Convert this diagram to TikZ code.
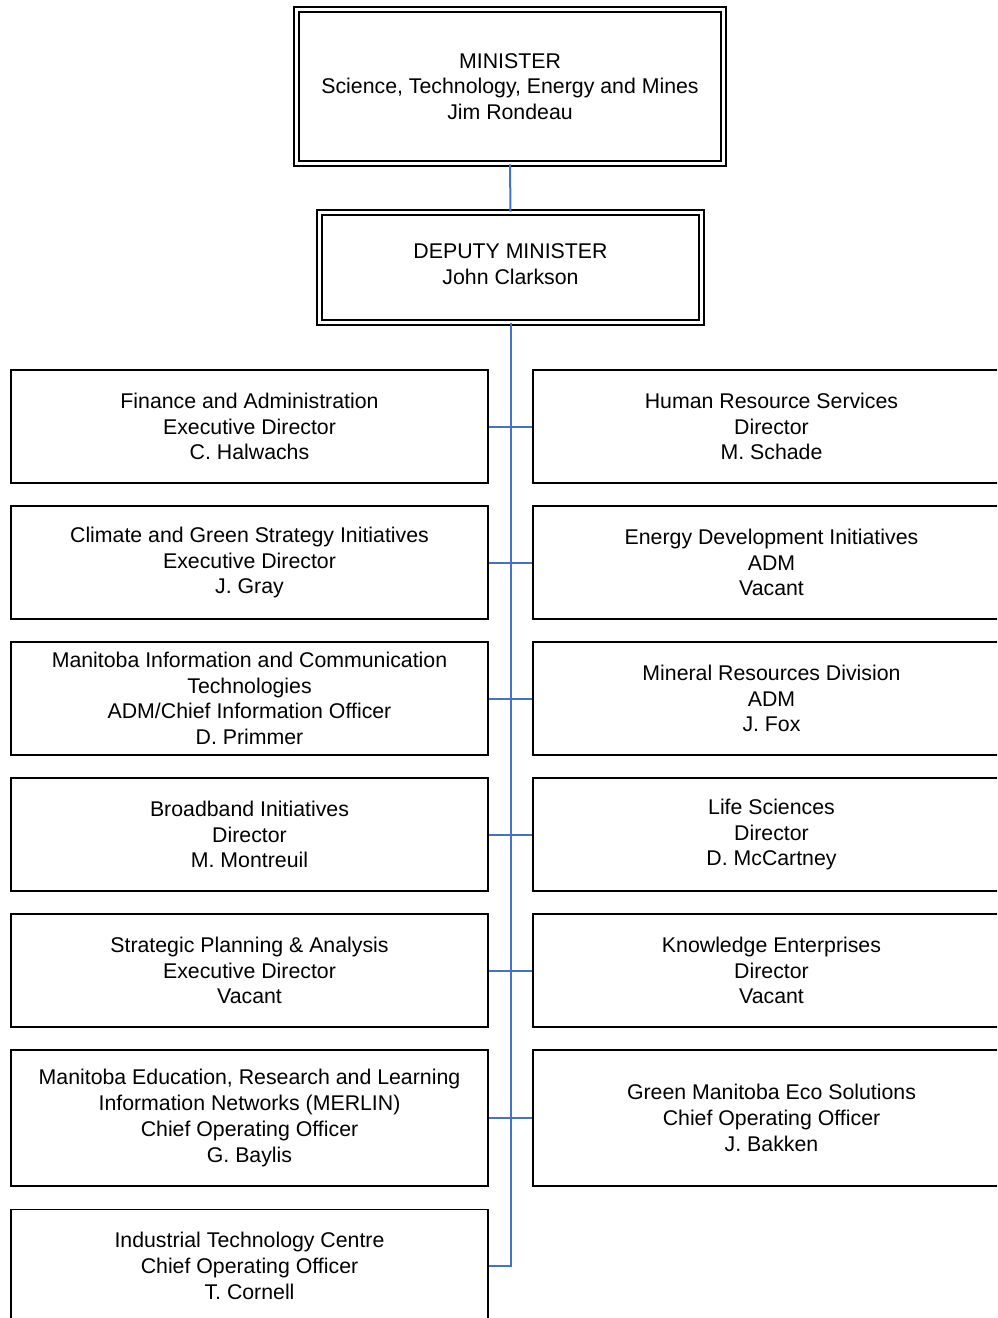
\documentclass[tikz,border=0pt]{standalone}
\usepackage{fontspec}
\setmainfont{Liberation Sans}
\definecolor{linkblue}{RGB}{68,114,196}
\begin{document}
\begin{tikzpicture}[x=1pt,y=-1pt,
  every node/.style={font=\fontsize{21.3}{25.7}\selectfont, align=center, inner sep=0pt},
  unitbox/.style={draw=black, line width=1.6pt, rectangle, minimum width=477pt, minimum height=113pt},
  tallbox/.style={unitbox, minimum height=136pt},
  headbox/.style={draw=black, line width=1.8pt, double, double distance=2.5pt, rectangle},
  link/.style={draw=linkblue, line width=2pt}
]
\useasboundingbox (0,0) rectangle (997,1318);
\clip (0,0) rectangle (997,1318);
\node[headbox, minimum width=427pt, minimum height=154pt] (min) at (510,86.5)
  {MINISTER\\Science, Technology, Energy and Mines\\Jim Rondeau};
\node[headbox, minimum width=382pt, minimum height=110pt] (dep) at (510.5,267.5) {};
\node (deptext) at ([yshift=3pt]dep.center) {DEPUTY MINISTER\\John Clarkson};

\node[unitbox] (L1) at (249.5,426.5) {Finance and Administration\\Executive Director\\C. Halwachs};
\node[unitbox] (R1) at (771.5,426.5) {Human Resource Services\\Director\\M. Schade};
\node[unitbox] (L2) at (249.5,562.5) {Climate and Green Strategy Initiatives\\Executive Director\\J. Gray};
\node[unitbox] (R2) at (771.5,562.5) {Energy Development Initiatives\\ADM\\Vacant};
\node[unitbox] (L3) at (249.5,698.5) {Manitoba Information and Communication\\Technologies\\ADM/Chief Information Officer\\D. Primmer};
\node[unitbox] (R3) at (771.5,698.5) {Mineral Resources Division\\ADM\\J. Fox};
\node[unitbox] (L4) at (249.5,834.5) {Broadband Initiatives\\Director\\M. Montreuil};
\node[unitbox] (R4) at (771.5,834.5) {Life Sciences\\Director\\D. McCartney};
\node[unitbox] (L5) at (249.5,970.5) {Strategic Planning \& Analysis\\Executive Director\\Vacant};
\node[unitbox] (R5) at (771.5,970.5) {Knowledge Enterprises\\Director\\Vacant};
\node[tallbox] (L6) at (249.5,1118) {Manitoba Education, Research and Learning\\Information Networks (MERLIN)\\Chief Operating Officer\\G. Baylis};
\node[tallbox] (R6) at (771.5,1118) {Green Manitoba Eco Solutions\\Chief Operating Officer\\J. Bakken};
\node[unitbox] (L7) at (249.5,1266) {Industrial Technology Centre\\Chief Operating Officer\\T. Cornell};

\draw[link] (min.south) -- (dep.north);
\draw[link] (dep.south) |- (L7.east);
\foreach \i in {1,...,6} {
  \draw[link] (L\i.east) -- (R\i.west);
}
\end{tikzpicture}
\end{document}
